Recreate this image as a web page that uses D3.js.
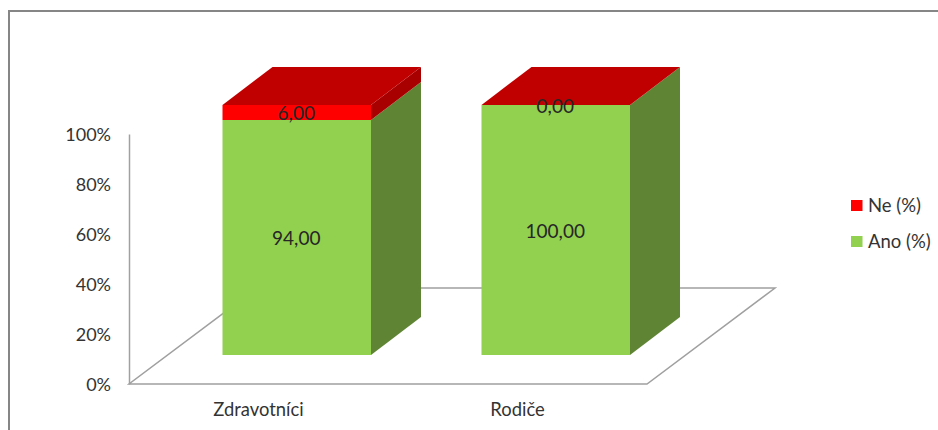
<!DOCTYPE html>
<html lang="cs">
<head>
<meta charset="utf-8">
<title>Ano / Ne (%)</title>
<script src="https://cdn.jsdelivr.net/npm/d3@7/dist/d3.min.js"></script>
<style>
  html, body { margin: 0; padding: 0; background: #fff; }
  svg { display: block; }
  text { font-family: Lato, "Open Sans", sans-serif; }
</style>
</head>
<body>
<svg id="chart" width="938" height="430"></svg>
<script>
// Chart data
const categories = ["Zdravotníci", "Rodiče"];
const seriesAno = [94, 100];
const seriesNe = [6, 0];
const yTicks = [0, 20, 40, 60, 80, 100];

// Colours for each face of the stacked 3D columns
const colours = {
  ano: { front: "#92D050", side: "#5F8534" },
  ne: { front: "#FF0000", side: "#A80000", top: "#C00000" },
  floor: "#A0A0A0",
  frame: "#868686",
  text: "#333333"
};

// Layout of the oblique projection
const depth = { dx: 50, dy: -38 };
const floorDepth = { dx: 128, dy: -96 };
const floorLeft = 129, floorRight = 647, floorY = 384;
const axisTop = 134;
const barBottom = 355, barHeight = 250, barWidth = 148.5, barInset = 93.5;

const svg = d3.select("#chart");

const x = d3.scaleBand().domain(categories).range([floorLeft, floorRight]);
const yAxisScale = d3.scaleLinear().domain([0, 100]).range([floorY, axisTop]);
const yBar = d3.scaleLinear().domain([0, 100]).range([barBottom, barBottom - barHeight]);

const poly = pts => pts.map(p => p.join(",")).join(" ");

// Outer frame: only the top and left edges are visible
svg.append("path")
  .attr("d", "M9,430V11H938")
  .attr("fill", "none")
  .attr("stroke", colours.frame)
  .attr("stroke-width", 2);

// Floor outline of the 3D plot
svg.append("polygon")
  .attr("points", poly([
    [floorLeft, floorY],
    [floorRight, floorY],
    [floorRight + floorDepth.dx, floorY + floorDepth.dy],
    [floorLeft + floorDepth.dx, floorY + floorDepth.dy]
  ]))
  .attr("fill", "none")
  .attr("stroke", colours.floor)
  .attr("stroke-width", 1.5);

// Value axis: vertical line and percentage labels
const yAxis = d3.axisLeft(yAxisScale)
  .tickValues(yTicks)
  .tickSize(0)
  .tickPadding(18)
  .tickFormat(d => d + "%");

const yAxisG = svg.append("g")
  .attr("transform", `translate(${floorLeft},0)`)
  .call(yAxis);
yAxisG.select(".domain")
  .attr("stroke", colours.floor)
  .attr("stroke-width", 1.5);
yAxisG.selectAll("text")
  .attr("fill", colours.text)
  .style("font-size", "18px")
  .style("font-family", "Lato, sans-serif")
  .attr("dy", "0.38em");

// Category labels along the front edge of the floor
const xAxis = d3.axisBottom(x).tickSize(0).tickPadding(19);
const xAxisG = svg.append("g")
  .attr("transform", `translate(0,${floorY})`)
  .call(xAxis);
xAxisG.select(".domain").remove();
xAxisG.selectAll("text")
  .attr("fill", colours.text)
  .style("font-size", "18.4px")
  .style("font-family", "Lato, sans-serif");

// Columns: side faces, front faces, then the top face
const rows = categories.map((name, i) => ({ name, ano: seriesAno[i], ne: seriesNe[i] }));
const formatValue = v => d3.format(".2f")(v).replace(".", ",");

const bar = svg.selectAll("g.bar")
  .data(rows)
  .join("g")
  .attr("class", "bar");

const left = d => x(d.name) + barInset;
const right = d => left(d) + barWidth;

function sideFace(x0, y0, y1) {
  return poly([
    [x0, y0],
    [x0 + depth.dx, y0 + depth.dy],
    [x0 + depth.dx, y1 + depth.dy],
    [x0, y1]
  ]);
}

bar.append("polygon")
  .attr("points", d => sideFace(right(d), yBar(0), yBar(d.ano)))
  .attr("fill", colours.ano.side);
bar.append("polygon")
  .attr("points", d => sideFace(right(d), yBar(d.ano), yBar(d.ano + d.ne)))
  .attr("fill", colours.ne.side);

bar.append("rect")
  .attr("x", left)
  .attr("y", d => yBar(d.ano))
  .attr("width", barWidth)
  .attr("height", d => yBar(0) - yBar(d.ano))
  .attr("fill", colours.ano.front);
bar.append("rect")
  .attr("x", left)
  .attr("y", d => yBar(d.ano + d.ne))
  .attr("width", barWidth)
  .attr("height", d => yBar(d.ano) - yBar(d.ano + d.ne))
  .attr("fill", colours.ne.front);

bar.append("polygon")
  .attr("points", d => {
    const t = yBar(d.ano + d.ne);
    return poly([
      [left(d), t],
      [right(d), t],
      [right(d) + depth.dx, t + depth.dy],
      [left(d) + depth.dx, t + depth.dy]
    ]);
  })
  .attr("fill", colours.ne.top);

// Value labels centred on each front segment
const valueLabel = (sel, value, mid) => sel.append("text")
  .attr("x", d => left(d) + barWidth / 2 - 0.5)
  .attr("y", d => mid(d) + 1)
  .attr("dy", "0.36em")
  .attr("text-anchor", "middle")
  .attr("fill", "#262626")
  .style("font-size", "19px")
  .text(d => formatValue(value(d)));

valueLabel(bar, d => d.ano, d => yBar(d.ano / 2));
valueLabel(bar, d => d.ne, d => yBar(d.ano + d.ne / 2));

// Legend
const legendItems = [
  { label: "Ne (%)", colour: colours.ne.front, y: 200 },
  { label: "Ano (%)", colour: colours.ano.front, y: 236 }
];
const legend = svg.selectAll("g.legend")
  .data(legendItems)
  .join("g")
  .attr("class", "legend")
  .attr("transform", d => `translate(851,${d.y})`);
legend.append("rect")
  .attr("width", 11.5)
  .attr("height", 11)
  .attr("fill", d => d.colour);
legend.append("text")
  .attr("x", 17)
  .attr("y", 5.5)
  .attr("dy", "0.36em")
  .attr("fill", colours.text)
  .style("font-size", "18.5px")
  .text(d => d.label);
</script>
</body>
</html>
